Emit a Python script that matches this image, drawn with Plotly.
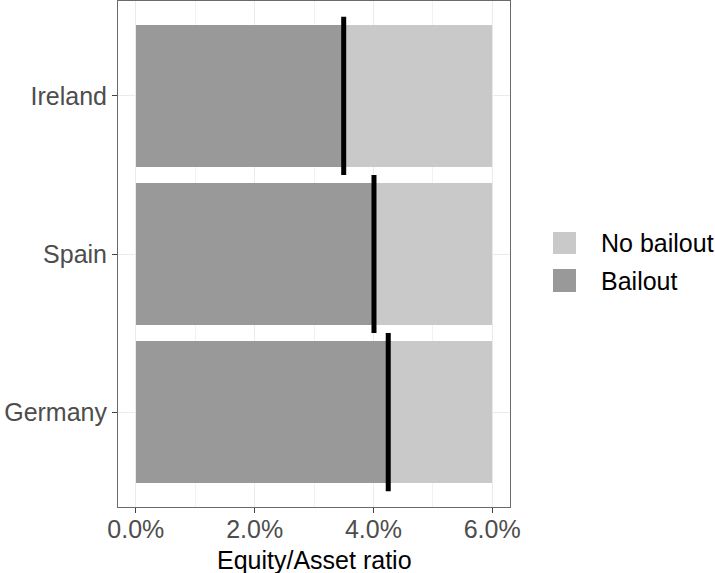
import plotly.graph_objects as go

countries = ["Germany", "Spain", "Ireland"]
bailout = [4.25, 4.01, 3.50]
no_bailout_total = [6.0, 6.0, 6.0]
x_ticks = [0, 2, 4, 6]
x_tick_labels = ["0.0%", "2.0%", "4.0%", "6.0%"]
legend_labels = ["No bailout", "Bailout"]
x_title = "Equity/Asset ratio"

C_NO = "#C9C9C9"
C_BAIL = "#999999"
W, H = 715, 573
ML, MR, MT, MB = 118, 205, 1, 66
PW, PH = W - ML - MR, H - MT - MB
FS = 25

def px(x):
    return (x - ML) / PW

def py(y):
    return (H - MB - y) / PH

ypos = list(range(len(countries)))

fig = go.Figure()
fig.add_trace(go.Bar(y=ypos, x=no_bailout_total, orientation="h", width=0.9,
                     marker=dict(color=C_NO, line=dict(width=0)), name=legend_labels[0],
                     showlegend=False, hoverinfo="skip"))
fig.add_trace(go.Bar(y=ypos, x=bailout, orientation="h", width=0.9,
                     marker=dict(color=C_BAIL, line=dict(width=0)), name=legend_labels[1],
                     showlegend=False, hoverinfo="skip"))

lx, ly = [], []
for i, v in zip(ypos, bailout):
    lx += [v, v, None]
    ly += [i - 0.5, i + 0.5, None]
fig.add_trace(go.Scatter(x=lx, y=ly, mode="lines", line=dict(color="black", width=5),
                         showlegend=False, hoverinfo="skip"))

font = "Liberation Sans, Arial, sans-serif"
fig.update_layout(
    width=W, height=H, barmode="overlay", bargap=0,
    margin=dict(l=ML, r=MR, t=MT, b=MB, autoexpand=False),
    plot_bgcolor="white", paper_bgcolor="white",
    font=dict(family=font, size=FS, color="black"),
    xaxis=dict(range=[-0.3, 6.3], tickvals=x_ticks, ticktext=x_tick_labels, automargin=False,
               showgrid=True, gridcolor="#EBEBEB", gridwidth=1.2,
               minor=dict(tickvals=[1, 3, 5], showgrid=True, gridcolor="#F2F2F2", gridwidth=0.6, ticks=""),
               zeroline=False, showline=True, mirror=True, linecolor="#6A6A6A", linewidth=1,
               ticks="outside", ticklen=5, tickcolor="#444444", tickwidth=1,
               ticklabelstandoff=-5,
               tickfont=dict(size=FS, color="#4D4D4D")),
    yaxis=dict(range=[-0.6, 2.6], tickvals=ypos, ticktext=countries, automargin=False,
               showgrid=True, gridcolor="#EBEBEB", gridwidth=1.2, zeroline=False,
               showline=True, mirror=True, linecolor="#6A6A6A", linewidth=1,
               ticks="outside", ticklen=5, tickcolor="#444444", tickwidth=1,
               tickfont=dict(size=FS, color="#4D4D4D")),
)

fig.add_annotation(xref="paper", yref="paper", x=0.5, y=py(560), text=x_title,
                   showarrow=False, xanchor="center", yanchor="middle",
                   font=dict(size=FS, color="black", family=font))

keys = [(232, 254, C_NO, 243), (269, 292, C_BAIL, 281)]
for (y0, y1, c, yc), lab in zip(keys, legend_labels):
    fig.add_shape(type="rect", xref="paper", yref="paper", x0=px(553), x1=px(576),
                  y0=py(y1), y1=py(y0), fillcolor=c, line=dict(width=0))
    fig.add_annotation(xref="paper", yref="paper", x=px(599), y=py(yc), text=lab,
                       showarrow=False, xanchor="left", yanchor="middle",
                       font=dict(size=FS, color="black", family=font))

fig.write_html("out.html", config={"displayModeBar": False},
               post_script="document.body.style.margin='0';document.body.style.overflow='hidden';")
